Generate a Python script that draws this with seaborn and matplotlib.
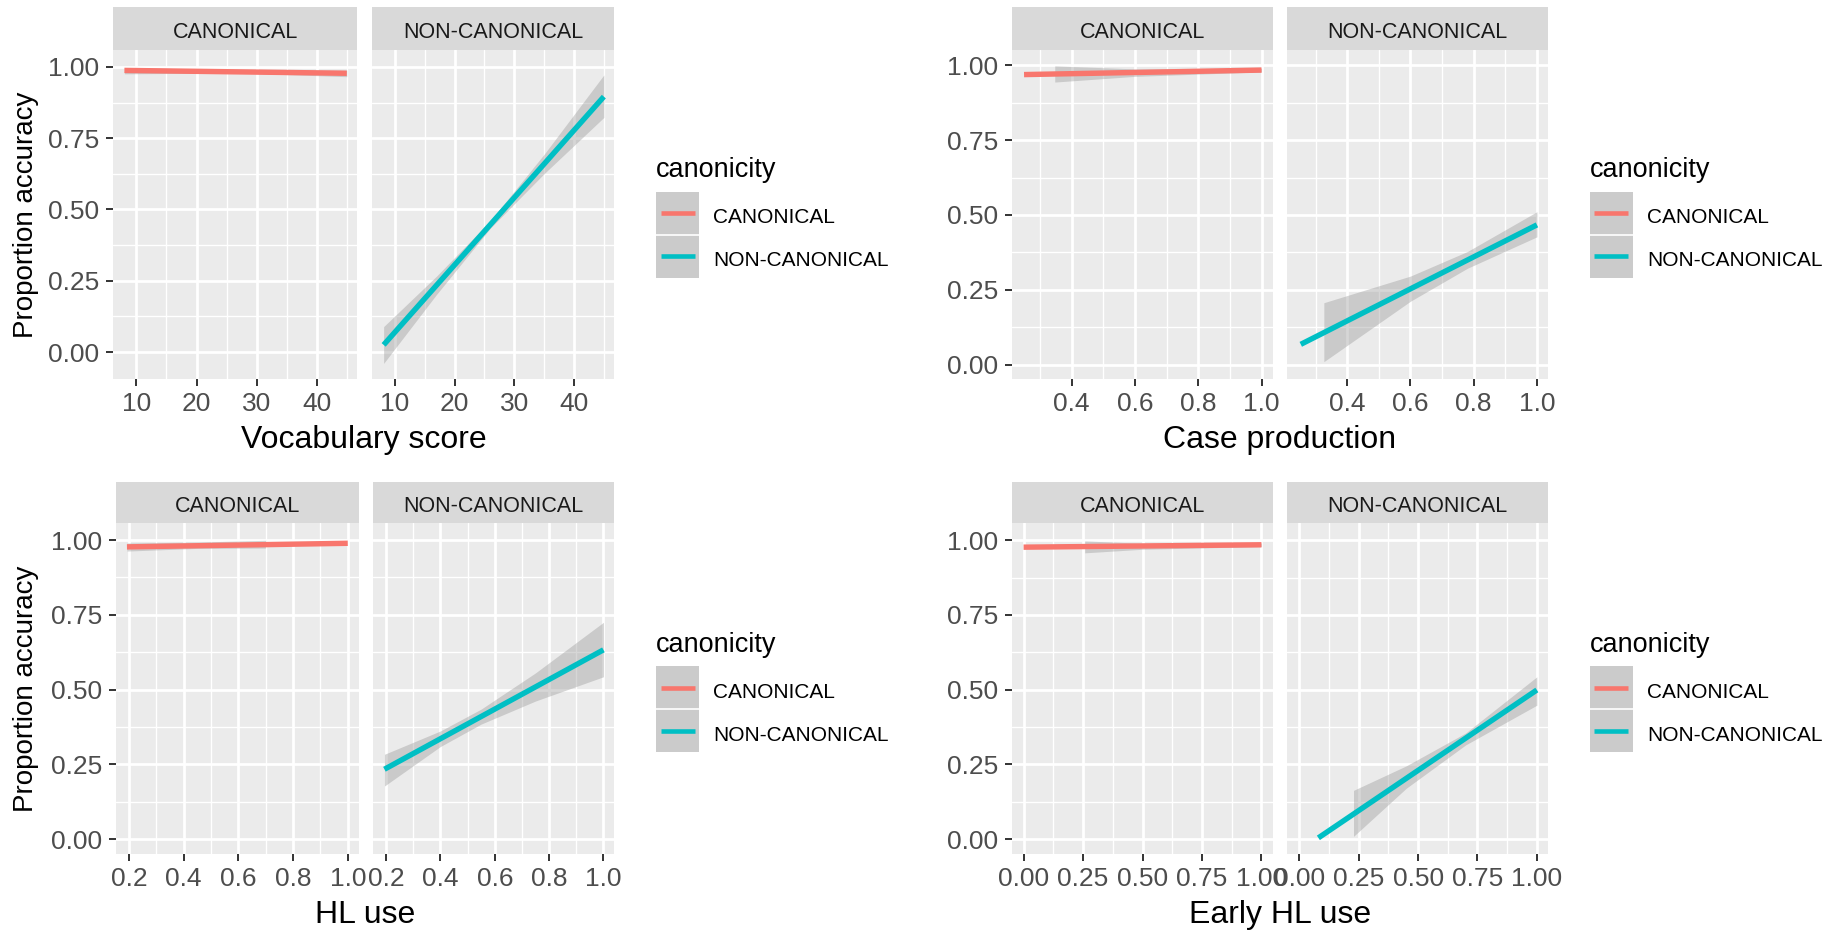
import matplotlib
matplotlib.use('Agg')
import matplotlib.pyplot as plt
from matplotlib.ticker import FixedLocator, AutoMinorLocator
from matplotlib.patches import Rectangle
import seaborn as sns

# groups shown as facets and in the legend
groups = ['CANONICAL', 'NON-CANONICAL']
group_colors = {'CANONICAL': '#F8766D', 'NON-CANONICAL': '#00BFC4'}

# Vocabulary score
vocab_can_x = [8.0, 45.0]
vocab_can_y = [0.988, 0.978]
vocab_can_band_x = [8.0, 27.0, 45.0]
vocab_can_lo = [0.976, 0.979, 0.966]
vocab_can_hi = [0.998, 0.990, 0.989]
vocab_non_x = [8.1, 45.0]
vocab_non_y = [0.025, 0.896]
vocab_non_band_x = [8.1, 17.0, 26.0, 35.0, 45.0]
vocab_non_lo = [-0.040, 0.203, 0.435, 0.626, 0.823]
vocab_non_hi = [0.089, 0.267, 0.461, 0.694, 0.972]
vocab_ticks = [10, 20, 30, 40]
vocab_labels = ['10', '20', '30', '40']

# Case production
case_can_x = [0.25, 1.0]
case_can_y = [0.969, 0.984]
case_can_band_x = [0.347, 0.6, 1.0]
case_can_lo = [0.944, 0.963, 0.978]
case_can_hi = [0.998, 0.988, 0.990]
case_non_x = [0.253, 1.0]
case_non_y = [0.068, 0.467]
case_non_band_x = [0.326, 0.6, 0.78, 1.0]
case_non_lo = [0.010, 0.212, 0.322, 0.427]
case_non_hi = [0.207, 0.296, 0.378, 0.511]
case_ticks = [0.4, 0.6, 0.8, 1.0]
case_labels = ['0.4', '0.6', '0.8', '1.0']

# HL use
hl_can_x = [0.193, 1.0]
hl_can_y = [0.977, 0.989]
hl_can_band_x = [0.193, 0.45, 0.70]
hl_can_lo = [0.963, 0.972, 0.973]
hl_can_hi = [0.990, 0.993, 0.999]
hl_non_x = [0.194, 1.0]
hl_non_y = [0.234, 0.633]
hl_non_band_x = [0.194, 0.4, 0.55, 0.75, 1.0]
hl_non_lo = [0.178, 0.310, 0.385, 0.462, 0.543]
hl_non_hi = [0.284, 0.362, 0.435, 0.556, 0.725]
hl_ticks = [0.2, 0.4, 0.6, 0.8, 1.0]
hl_labels = ['0.2', '0.4', '0.6', '0.8', '1.0']

# Early HL use
early_can_x = [0.0, 1.0]
early_can_y = [0.977, 0.985]
early_can_band_x = [0.257, 0.5, 1.0]
early_can_lo = [0.958, 0.970, 0.979]
early_can_hi = [0.998, 0.990, 0.991]
early_non_x = [0.080, 1.0]
early_non_y = [0.004, 0.499]
early_non_band_x = [0.228, 0.45, 0.7, 1.0]
early_non_lo = [0.009, 0.170, 0.315, 0.448]
early_non_hi = [0.163, 0.245, 0.355, 0.543]
early_ticks = [0.0, 0.25, 0.5, 0.75, 1.0]
early_labels = ['0.00', '0.25', '0.50', '0.75', '1.00']

acc_ticks = [0.0, 0.25, 0.5, 0.75, 1.0]
acc_labels = ['0.00', '0.25', '0.50', '0.75', '1.00']

panels = [
    dict(xlabel='Vocabulary score', ylabel='Proportion accuracy', row=0,
         facets=[(113.3, 357.3), (372.0, 614.3)], xlim=(6.15, 46.75), ylim=(-0.0947, 1.0596),
         ticks=vocab_ticks, labels=vocab_labels,
         data={'CANONICAL': (vocab_can_x, vocab_can_y, vocab_can_band_x, vocab_can_lo, vocab_can_hi),
               'NON-CANONICAL': (vocab_non_x, vocab_non_y, vocab_non_band_x, vocab_non_lo, vocab_non_hi)}),
    dict(xlabel='Case production', ylabel=None, row=0,
         facets=[(1011.7, 1272.6), (1287.5, 1548.0)], xlim=(0.211, 1.035), ylim=(-0.0478, 1.0511),
         ticks=case_ticks, labels=case_labels,
         data={'CANONICAL': (case_can_x, case_can_y, case_can_band_x, case_can_lo, case_can_hi),
               'NON-CANONICAL': (case_non_x, case_non_y, case_non_band_x, case_non_lo, case_non_hi)}),
    dict(xlabel='HL use', ylabel='Proportion accuracy', row=1,
         facets=[(116.0, 358.7), (373.3, 614.3)], xlim=(0.153, 1.040), ylim=(-0.0491, 1.0558),
         ticks=hl_ticks, labels=hl_labels,
         data={'CANONICAL': (hl_can_x, hl_can_y, hl_can_band_x, hl_can_lo, hl_can_hi),
               'NON-CANONICAL': (hl_non_x, hl_non_y, hl_non_band_x, hl_non_lo, hl_non_hi)}),
    dict(xlabel='Early HL use', ylabel=None, row=1,
         facets=[(1011.7, 1272.6), (1287.5, 1548.0)], xlim=(-0.050, 1.047), ylim=(-0.050, 1.0569),
         ticks=early_ticks, labels=early_labels,
         data={'CANONICAL': (early_can_x, early_can_y, early_can_band_x, early_can_lo, early_can_hi),
               'NON-CANONICAL': (early_non_x, early_non_y, early_non_band_x, early_non_lo, early_non_hi)}),
]

sns.set_theme(style='white')
plt.rcParams['font.family'] = ['Liberation Sans', 'DejaVu Sans']

W, H = 1840, 931
fig = plt.figure(figsize=(W / 100, H / 100), dpi=100)
fig.patch.set_facecolor('white')


def px_rect(x0, x1, y0, y1):
    return [x0 / W, 1 - y1 / H, (x1 - x0) / W, (y1 - y0) / H]


# rows: strip top, strip bottom / plot top, plot bottom, xlabel baseline
rows = [(7.0, 50.0, 379.0, 448.0), (481.7, 523.3, 854.0, 923.0)]

for p in panels:
    s0, s1, p1, xl_y = rows[p['row']]
    for i, grp in enumerate(groups):
        x0, x1 = p['facets'][i]
        ax = fig.add_axes(px_rect(x0, x1, s1, p1))
        sax = fig.add_axes(px_rect(x0, x1, s0, s1))

        lx, ly, bx, lo, hi = p['data'][grp]
        ax.fill_between(bx, lo, hi, color='#999999', alpha=0.4, lw=0, zorder=2)
        sns.lineplot(x=lx, y=ly, ax=ax, color=group_colors[grp], linewidth=3.9, zorder=3)
        for ln in ax.lines:
            ln.set_solid_capstyle('butt')

        ax.set_xlim(*p['xlim'])
        ax.set_ylim(*p['ylim'])
        ax.set_xlabel('')
        ax.set_ylabel('')
        ax.set_facecolor('#EBEBEB')
        for sp in ax.spines.values():
            sp.set_visible(False)
        ax.xaxis.set_major_locator(FixedLocator(p['ticks']))
        ax.set_xticklabels(p['labels'])
        ax.yaxis.set_major_locator(FixedLocator(acc_ticks))
        ax.set_yticklabels(acc_labels)
        ax.xaxis.set_minor_locator(AutoMinorLocator(2))
        ax.yaxis.set_minor_locator(AutoMinorLocator(2))
        ax.set_axisbelow(True)
        ax.grid(which='major', color='white', linewidth=1.95)
        ax.grid(which='minor', color='white', linewidth=1.0)
        ax.tick_params(which='minor', length=0)
        ax.tick_params(which='major', length=5, width=1.4, color='#333333',
                       labelcolor='#4D4D4D', labelsize=19)
        ax.tick_params(axis='x', pad=4.5, bottom=True)
        ax.tick_params(axis='y', pad=5, left=True)
        if i == 1:
            ax.tick_params(axis='y', labelleft=False, left=False)

        sax.set_facecolor('#D9D9D9')
        sax.set_xticks([])
        sax.set_yticks([])
        for sp in sax.spines.values():
            sp.set_visible(False)
        sax.text(0.5, 0.275, grp, transform=sax.transAxes, ha='center', va='baseline',
                 fontsize=15.5, color='#1A1A1A')

    fl, fr = p['facets'][0][0], p['facets'][1][1]
    fig.text((fl + fr) / 2 / W, 1 - xl_y / H, p['xlabel'], ha='center', va='baseline',
             fontsize=23, color='black')
    if p['ylabel']:
        fig.text(26 / W, 1 - (s1 + p1) / 2 / H, p['ylabel'], rotation=90,
                 ha='center', va='center', fontsize=20, color='black')

    # legend
    lx0 = fr + 41.7
    ly0 = s0 + 143.0
    lax = fig.add_axes(px_rect(lx0, lx0 + 270, ly0, ly0 + 140))
    lax.set_xlim(0, 270)
    lax.set_ylim(140, 0)
    lax.axis('off')
    lax.text(0, 27, 'canonicity', ha='left', va='baseline', fontsize=19.5, color='black')
    for k, grp in enumerate(groups):
        top = 41.7 + 43 * k
        lax.add_patch(Rectangle((0, top), 43.3, 43, facecolor='#CBCBCB', edgecolor='none'))
        lax.plot([4.7, 38.6], [top + 21.5, top + 21.5], color=group_colors[grp],
                 linewidth=3.3, solid_capstyle='butt')
        lax.text(57.3, top + 31.6, grp, ha='left', va='baseline', fontsize=15, color='black')
    lax.plot([0, 43.3], [84.7, 84.7], color='white', linewidth=1.2)

fig.savefig('out.png', dpi=100, facecolor='white')
